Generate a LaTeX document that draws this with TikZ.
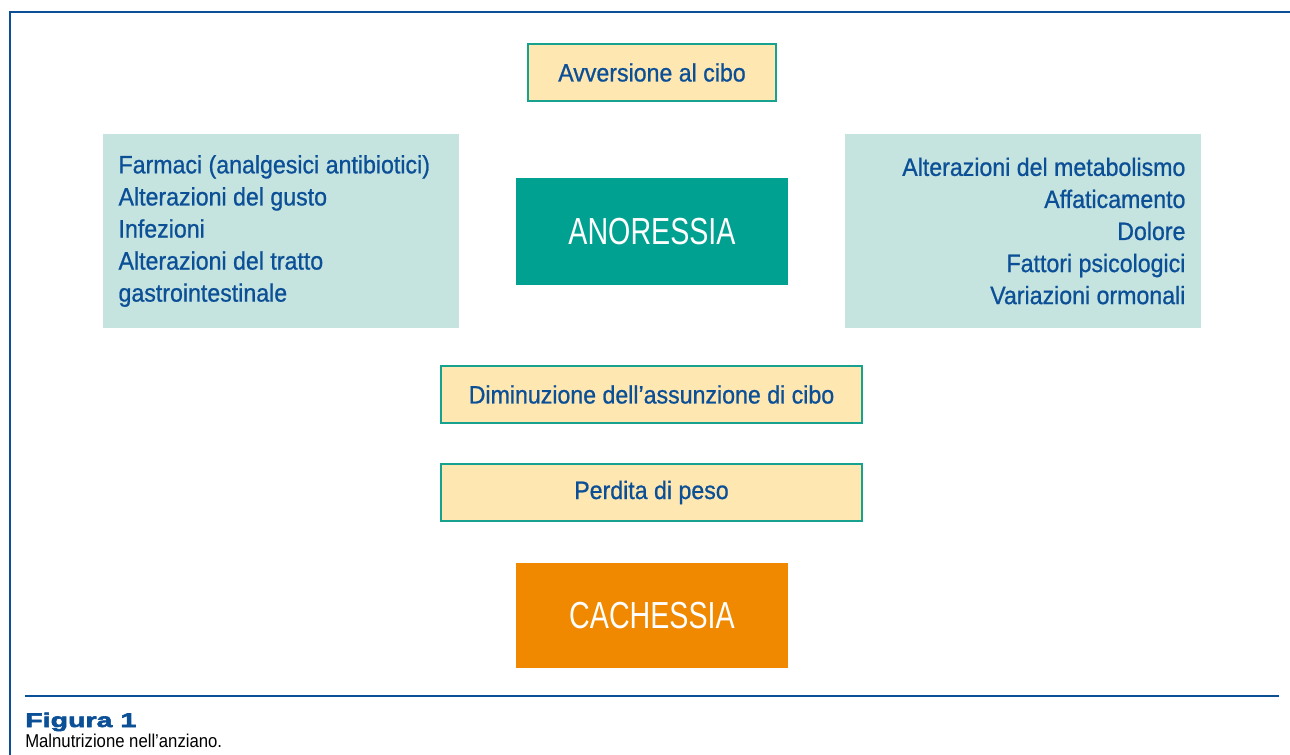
\documentclass[tikz,border=0pt]{standalone}
\usepackage{fontspec}
\setmainfont{Liberation Sans}[FakeStretch=0.9]
\newfontfamily\boxfont{Liberation Sans}[FakeStretch=0.92,FakeBold=0.8]
\newfontfamily\bigfont{Liberation Sans}[FakeStretch=0.76]
\newfontfamily\figfont{Liberation Sans Bold}[FakeBold=3,FakeStretch=1.45]
\usepackage{tikz}

\definecolor{inkblue}{HTML}{0B4F96}
\definecolor{teal}{HTML}{00A190}
\definecolor{tealline}{HTML}{17A28F}
\definecolor{paleteal}{HTML}{C5E3DF}
\definecolor{cream}{HTML}{FFE7B2}
\definecolor{cacorange}{HTML}{F08800}

\begin{document}
\begin{tikzpicture}[
    x=0.025cm, y=-0.025cm,
    hint/.style={draw=tealline, line width=1.4pt, fill=cream, align=center, text=inkblue,
                 inner sep=0pt, minimum height=1.44cm, font=\boxfont\fontsize{17.9}{22.8}\selectfont},
    core/.style={inner sep=0pt, minimum width=6.8cm, text=white, font=\bigfont\fontsize{26.8}{30}\selectfont},
    side/.style={fill=paleteal, text=inkblue, inner xsep=0.39cm, inner ysep=0pt,
                 minimum height=4.85cm, text width=8.12cm, font=\boxfont\fontsize{17.9}{22.8}\selectfont,
                 execute at begin node={\spaceskip=0pt\xspaceskip=0pt}},
    rule/.style={draw=inkblue, line width=1.5pt}
]
\useasboundingbox (0,0) rectangle (1290,755);

% frame
\draw[rule] (1290,12) -- (10,12) -- (10,755);

% boxes
\node[hint, minimum width=6.2cm]    (avv) at (652,72.5)   {Avversione al cibo};
\node[core, fill=teal, minimum height=2.675cm] (ano) at (652,231.5) {ANORESSIA};
\node[side, align=flush left]  (cause)  at (281,231)  {Farmaci (analgesici antibiotici)\\Alterazioni del gusto\\Infezioni\\Alterazioni del tratto\\gastrointestinale};
\node[side, align=flush right] (fattori) at (1023,231) {Alterazioni del metabolismo\\Affaticamento\\Dolore\\Fattori psicologici\\Variazioni ormonali};
\node[hint, minimum width=10.53cm]  (dim) at (651.5,394.5) {Diminuzione dell’assunzione di cibo};
\node[hint, minimum width=10.53cm]  (per) at (651.5,492.5) {Perdita di peso};
\node[core, fill=cacorange, minimum height=2.625cm] (cac) at (652,615.5) {CACHESSIA};

% caption
\draw[rule] (25,696) -- (1279,696);
\node[anchor=base west, inner sep=0pt, text=inkblue, font=\figfont\fontsize{14}{16}\selectfont] (fig) at (25,727) {Figura 1};
\node[anchor=base west, inner sep=0pt, font=\fontsize{13.2}{14}\selectfont] (cap) at (25,747) {Malnutrizione nell’anziano.};
\end{tikzpicture}
\end{document}
